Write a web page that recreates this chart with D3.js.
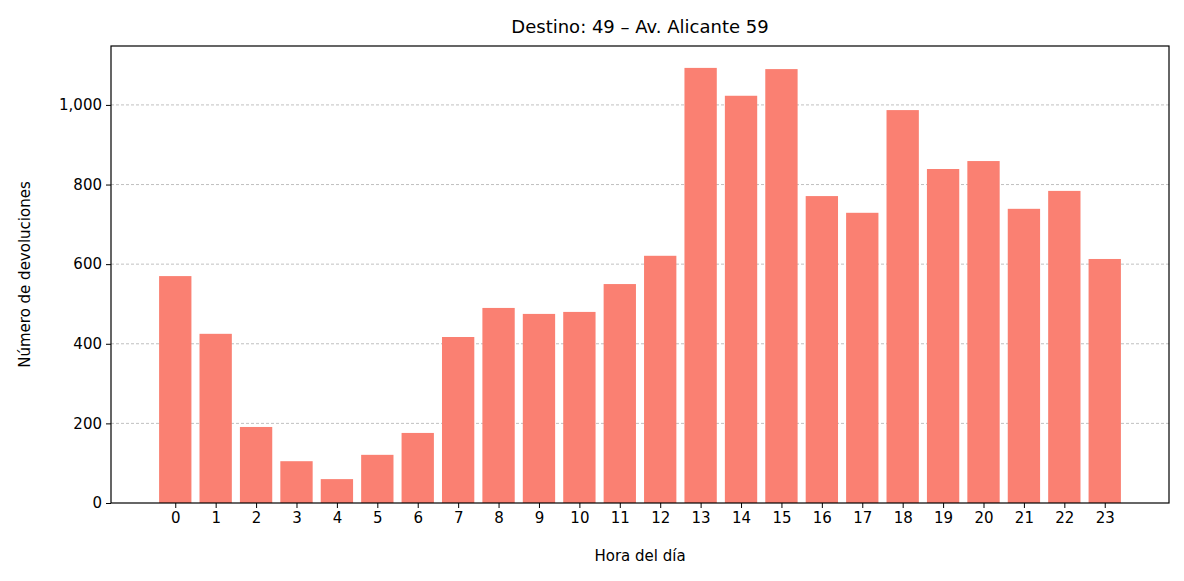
<!DOCTYPE html>
<html><head><meta charset="utf-8">
<script src="https://cdn.jsdelivr.net/npm/d3@7"></script>
<style>body{margin:0;background:#fff;font-family:"DejaVu Sans",sans-serif;}</style>
</head><body><svg id="c" width="1184" height="581"></svg>
<script>
const hours = d3.range(24);
const values = [570,425,191,105,60,121,176,417,490,475,480,550,621,1093,1023,1090,771,729,987,839,859,739,784,613];
const yTicks = [0,200,400,600,800,1000];
const title = "Destino: 49 – Av. Alicante 59";
const xLabel = "Hora del día";
const yLabel = "Número de devoluciones";

const svg = d3.select("#c");
const L=111,R=1169,T=46,B=503;
const x = d3.scaleLinear().domain([-1.59,24.59]).range([L,R]);
const y = d3.scaleLinear().domain([0,1148]).range([B,T]);
const bw = x(0.8)-x(0);

svg.append("g").selectAll("line").data(yTicks.slice(1)).join("line")
  .attr("x1",L).attr("x2",R).attr("y1",d=>y(d)).attr("y2",d=>y(d))
  .attr("stroke","#b0b0b0").attr("stroke-width",0.8).attr("stroke-dasharray","3,2");

svg.append("g").selectAll("rect").data(values).join("rect")
  .attr("x",(d,i)=>x(hours[i])-bw/2).attr("width",bw)
  .attr("y",d=>y(d)).attr("height",d=>B-y(d)).attr("fill","salmon");

const xa = svg.append("g").attr("transform",`translate(0,${B})`)
  .call(d3.axisBottom(x).tickValues(hours).tickFormat(d3.format("d")).tickSize(5).tickPadding(4));
const ya = svg.append("g").attr("transform",`translate(${L},0)`)
  .call(d3.axisLeft(y).tickValues(yTicks).tickSize(5).tickPadding(4));
[xa,ya].forEach(a=>{a.select(".domain").remove();a.selectAll("text").attr("font-size",15).attr("font-family","DejaVu Sans").attr("fill","#000");a.selectAll("line").attr("stroke","#000");});

svg.append("rect").attr("x",L).attr("y",T).attr("width",R-L).attr("height",B-T)
  .attr("fill","none").attr("stroke","#000").attr("stroke-width",1.2);

svg.append("text").attr("x",(L+R)/2).attr("y",33).attr("text-anchor","middle")
  .attr("font-size",18).text(title);
svg.append("text").attr("x",(L+R)/2).attr("y",561).attr("text-anchor","middle")
  .attr("font-size",15).text(xLabel);
svg.append("text").attr("transform",`translate(30,${(T+B)/2}) rotate(-90)`).attr("text-anchor","middle")
  .attr("font-size",15).text(yLabel);
</script></body></html>
